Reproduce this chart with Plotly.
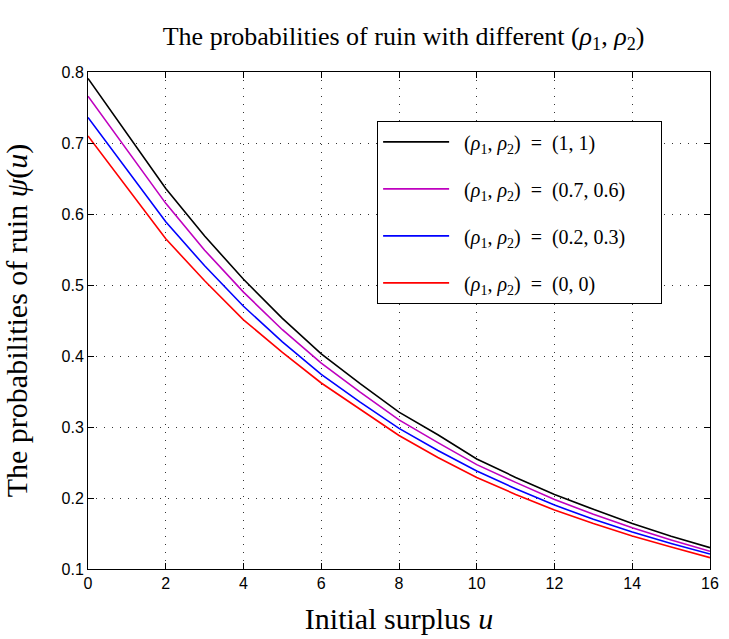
import plotly.graph_objects as go

u = list(range(0, 17))
eq = "\u2002=\u2002"
pad = "\u2002\u2002\u2002"
series_names = [
    "\u2002(<i>ρ</i><sub>1</sub>, <i>ρ</i><sub>2</sub>)" + eq + "(1, 1)" + pad,
    "\u2002(<i>ρ</i><sub>1</sub>, <i>ρ</i><sub>2</sub>)" + eq + "(0.7, 0.6)" + pad,
    "\u2002(<i>ρ</i><sub>1</sub>, <i>ρ</i><sub>2</sub>)" + eq + "(0.2, 0.3)" + pad,
    "\u2002(<i>ρ</i><sub>1</sub>, <i>ρ</i><sub>2</sub>)" + eq + "(0, 0)" + pad,
]
psi_1_1 = [0.791, 0.714, 0.636, 0.569, 0.508, 0.453, 0.403, 0.361, 0.321, 0.289,
           0.255, 0.229, 0.205, 0.184, 0.164, 0.146, 0.130]
psi_07_06 = [0.766, 0.690, 0.615, 0.549, 0.490, 0.437, 0.390, 0.349, 0.310, 0.278,
             0.247, 0.222, 0.198, 0.177, 0.158, 0.141, 0.125]
psi_02_03 = [0.736, 0.662, 0.589, 0.527, 0.470, 0.420, 0.374, 0.335, 0.298, 0.267,
             0.238, 0.213, 0.190, 0.170, 0.152, 0.136, 0.121]
psi_0_0 = [0.710, 0.638, 0.565, 0.506, 0.451, 0.405, 0.362, 0.325, 0.288, 0.257,
           0.229, 0.205, 0.183, 0.164, 0.1465, 0.131, 0.116]
x_ticks = list(range(0, 17, 2))
y_ticks = [0.1, 0.2, 0.3, 0.4, 0.5, 0.6, 0.7, 0.8]

colors = ["#000000", "#bf00bf", "#0000ff", "#ff0000"]
all_series = [psi_1_1, psi_07_06, psi_02_03, psi_0_0]

fig = go.Figure()
for i, (name, ys, c) in enumerate(zip(series_names, all_series, colors)):
    fig.add_trace(go.Scatter(x=u, y=ys, mode="lines", name=name,
                             legendgroup=f"g{i}",
                             line=dict(color=c, width=1.6)))

serif = "Liberation Serif, Times New Roman, serif"
sans = "Liberation Sans, Arial, sans-serif"

axis_common = dict(
    showline=True, linecolor="black", linewidth=1, mirror="ticks",
    ticks="inside", ticklen=6, tickcolor="black", tickwidth=1,
    showgrid=True, gridcolor="#333333", griddash="1px,7px", gridwidth=1,
    zeroline=False, tickfont=dict(family=sans, size=16, color="black"),
)

fig.update_layout(
    width=729, height=639,
    margin=dict(l=88, r=10, t=72, b=70),
    paper_bgcolor="white", plot_bgcolor="white",
    title=dict(text="The probabilities of ruin with different (<i>ρ</i><sub>1</sub>, <i>ρ</i><sub>2</sub>)",
               x=0.5536, xanchor="center", y=0.944, yanchor="middle",
               font=dict(family=serif, size=26, color="black")),
    xaxis=dict(range=[0, 16], tickvals=x_ticks, ticktext=[str(v) for v in x_ticks],
               title=dict(text="Initial surplus <i>u</i>", standoff=16,
                          font=dict(family=serif, size=30, color="black")),
               **axis_common),
    yaxis=dict(range=[0.1, 0.8], tickvals=y_ticks, ticktext=[f"{v:.1f}" for v in y_ticks],
               title=dict(text="The probabilities of ruin <i>ψ</i>(<i>u</i>)", standoff=27,
                          font=dict(family=serif, size=30, color="black")),
               **axis_common),
    legend=dict(x=0.4645, y=0.901, xanchor="left", yanchor="top",
                bgcolor="white", bordercolor="black", borderwidth=1.2,
                font=dict(family=serif, size=20, color="black"),
                traceorder="grouped", tracegroupgap=18, itemwidth=66),
    showlegend=True,
)

fig.write_html("out.html", config={"displayModeBar": False},
               post_script="document.body.style.margin='0';")
